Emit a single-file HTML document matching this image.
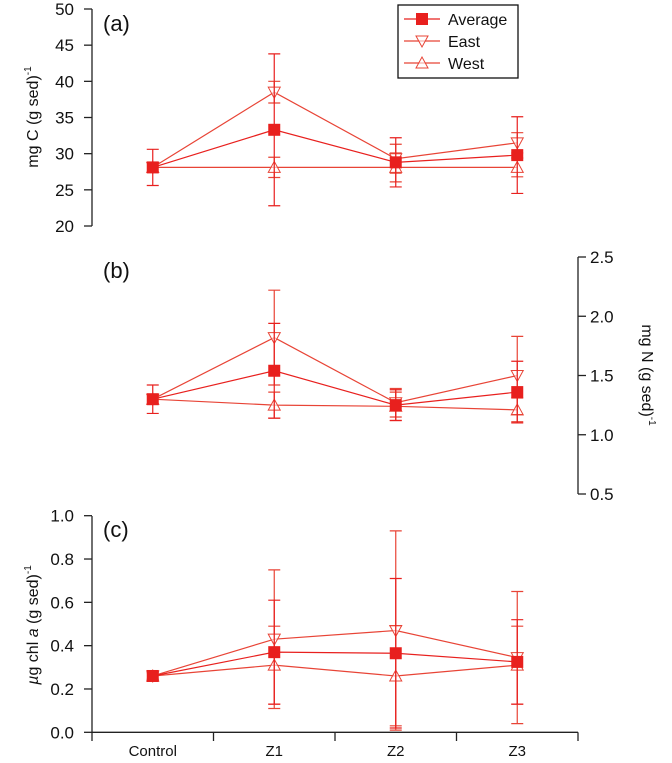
<!DOCTYPE html>
<html><head><meta charset="utf-8"><style>
html,body{margin:0;padding:0;background:#fff;}
svg{display:block;font-family:"Liberation Sans",sans-serif;}
</style></head><body>
<svg id="chart" width="672" height="763" viewBox="0 0 672 763"></svg>
<script>
const categories = ["Control","Z1","Z2","Z3"];
const seriesNames = ["Average","East","West"];
// panel a: mg C
const cAvg = [28.1,33.3,28.8,29.8], cAvgErr = [2.5,10.5,3.4,5.3];
const cEast = [28.1,38.5,29.3,31.5], cEastErr = [0,1.5,2.0,1.4];
const cWest = [28.1,28.1,28.1,28.1], cWestErr = [0,1.4,2.0,1.3];
const cTicks = [20,25,30,35,40,45,50];
// panel b: mg N
const nAvg = [1.30,1.54,1.25,1.36], nAvgErr = [0.12,0.40,0.13,0.26];
const nEast = [1.30,1.82,1.27,1.50], nEastErr = [0,0.40,0.12,0.33];
const nWest = [1.30,1.25,1.24,1.21], nWestErr = [0,0.11,0.12,0.10];
const nTicks = ["0.5","1.0","1.5","2.0","2.5"];
// panel c: chl a
const aAvg = [0.26,0.37,0.365,0.325], aAvgErr = [0.015,0.24,0.345,0.195];
const aEast = [0.26,0.43,0.47,0.345], aEastErr = [0,0.32,0.46,0.305];
const aWest = [0.26,0.31,0.26,0.31], aWestErr = [0,0.18,0.23,0.18];
const aTicks = ["0.0","0.2","0.4","0.6","0.8","1.0"];

const svg = document.getElementById('chart');
const NS = 'http://www.w3.org/2000/svg';
const RED = '#e8201e', LRED = '#e84436';
function mk(tag, attrs, parent){const e=document.createElementNS(NS,tag);for(const k in attrs)e.setAttribute(k,attrs[k]);(parent||svg).appendChild(e);return e;}
const X0 = 92, X1 = 578;
const xScale = i => X0 + (X1-X0)/categories.length*(i+0.5);
function lin(d0,d1,r0,r1){return v=>r0+(v-d0)/(d1-d0)*(r1-r0);}
const yA = lin(20,50,226,9), yB = lin(0.5,2.5,494,257), yC = lin(0,1,732.3,515.7);

function marker(g,type,x,y){
  let m;
  if(type==='sq'){m=mk('rect',{x:x-6,y:y-6,width:12,height:12,fill:RED},g);}
  else if(type==='down'){m=mk('path',{d:`M${x-6},${y-5}L${x+6},${y-5}L${x},${y+6}Z`,fill:'#fff','fill-opacity':0.6,stroke:LRED,'stroke-width':1},g);}
  else {m=mk('path',{d:`M${x-6},${y+5}L${x+6},${y+5}L${x},${y-6}Z`,fill:'#fff','fill-opacity':0.6,stroke:LRED,'stroke-width':1},g);}
  
  
}
function series(vals,errs,ys,type,name){
  const g=mk('g',{});
  
  
  const col = type==='sq'?RED:LRED;
  const pts = vals.map((v,i)=>xScale(i)+','+ys(v)).join(' ');
  const pl=mk('polyline',{points:pts,fill:'none',stroke:col,'stroke-width':1.2},g);
  
  
  vals.forEach((v,i)=>{
    const e=errs[i]; if(e<=0) return;
    const x=xScale(i), yt=ys(v+e), yb=ys(v-e);
    const eb=mk('path',{d:`M${x},${yt}V${yb}M${x-6},${yt}H${x+6}M${x-6},${yb}H${x+6}`,stroke:col,'stroke-width':1.2,fill:'none'},g);
    
    
  });
  vals.forEach((v,i)=>marker(g,type,xScale(i),ys(v)));
}
function text(str,x,y,opts,name){
  const t=mk('text',Object.assign({x:x,y:y,'font-size':17,fill:'#111'},opts||{}));
  t.textContent=str;
  
  
  return t;
}
// panel a axis
let ax=mk('path',{d:`M${X0},9V226`,stroke:'#222','stroke-width':1.3,fill:'none'});


cTicks.forEach(t=>{const y=yA(t);mk('path',{d:`M${X0-8},${y}H${X0}`,stroke:'#222','stroke-width':1.3});text(String(t),74,y+6,{'text-anchor':'end'},'y-tick-label');});
// panel b axis (right)
ax=mk('path',{d:`M${X1},257V494`,stroke:'#222','stroke-width':1.3,fill:'none'});


nTicks.forEach(t=>{const y=yB(+t);mk('path',{d:`M${X1},${y}H${X1+8}`,stroke:'#222','stroke-width':1.3});text(t,590,y+6,{},'y-tick-label');});
// panel c axes
ax=mk('path',{d:`M${X0},516V732.3H${X1}`,stroke:'#222','stroke-width':1.3,fill:'none'});


aTicks.forEach(t=>{const y=yC(+t);mk('path',{d:`M${X0-8},${y}H${X0}`,stroke:'#222','stroke-width':1.3});text(t,74,y+6,{'text-anchor':'end'},'y-tick-label');});
for(let i=0;i<=categories.length;i++){const x=X0+(X1-X0)/categories.length*i;mk('path',{d:`M${x},732.3V741`,stroke:'#222','stroke-width':1.3});}
categories.forEach((c,i)=>text(c,xScale(i),756,{'text-anchor':'middle','font-size':15},'x-tick-label'));

// series
series(cWest,cWestErr,yA,'up','west-carbon');
series(cEast,cEastErr,yA,'down','east-carbon');
series(cAvg,cAvgErr,yA,'sq','average-carbon');
series(nWest,nWestErr,yB,'up','west-nitrogen');
series(nEast,nEastErr,yB,'down','east-nitrogen');
series(nAvg,nAvgErr,yB,'sq','average-nitrogen');
series(aWest,aWestErr,yC,'up','west-chl');
series(aEast,aEastErr,yC,'down','east-chl');
series(aAvg,aAvgErr,yC,'sq','average-chl');

// panel labels
text('(a)',103,31,{'font-size':22},'panel-label-a');
text('(b)',103,278,{'font-size':22},'panel-label-b');
text('(c)',103,537,{'font-size':22},'panel-label-c');

// axis titles
let t=text('',0,0,{'font-size':16,transform:'translate(38,117) rotate(-90)','text-anchor':'middle'},'y-axis-title-carbon');
t.innerHTML='mg C (g sed)<tspan dy="-7" font-size="10">-1</tspan>';
t=text('',0,0,{'font-size':16,transform:'translate(38,625) rotate(-90)','text-anchor':'middle'},'y-axis-title-chl');
t.innerHTML='<tspan font-style="italic">µ</tspan>g chl <tspan font-style="italic">a</tspan> (g sed)<tspan dy="-7" font-size="10">-1</tspan>';
t=text('',0,0,{'font-size':16,transform:'translate(642,375) rotate(90)','text-anchor':'middle'},'y-axis-title-nitrogen');
t.innerHTML='mg N (g sed)<tspan dy="-7" font-size="10">-1</tspan>';

// legend
const lg=mk('g',{});


mk('rect',{x:398,y:5,width:120,height:73,fill:'#fff',stroke:'#111','stroke-width':1.3},lg);
const types=['sq','down','up'];
seriesNames.forEach((n,i)=>{
  const y=19+i*22;
  const e=mk('g',{},lg);
  
  
  mk('path',{d:`M404,${y}H440`,stroke:i?LRED:RED,'stroke-width':1.2},e);
  marker(e,types[i],422,y);
  const tt=mk('text',{x:448,y:y+6,'font-size':16,fill:'#111'},e);
  tt.textContent=n;
  
  
});
</script>
</body></html>
